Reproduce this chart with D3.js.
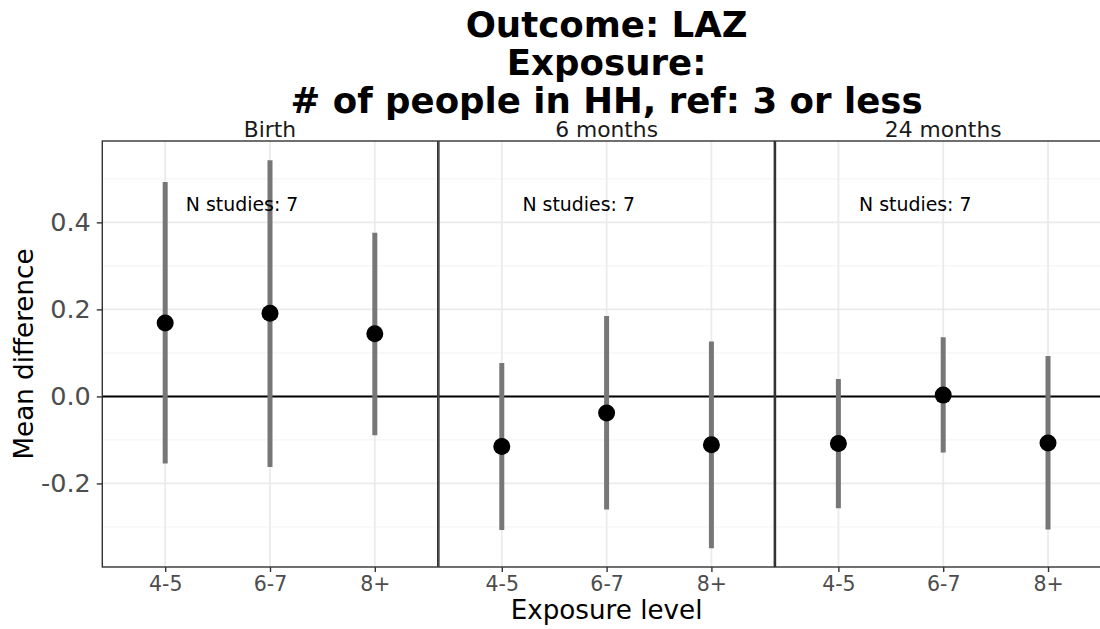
<!DOCTYPE html>
<html>
<head>
<meta charset="utf-8">
<script src="https://cdn.jsdelivr.net/npm/d3@7"></script>
<style>
  html, body { margin: 0; padding: 0; background: #fff; overflow: hidden; }
  svg { display: block; font-family: "DejaVu Sans", sans-serif; }
</style>
</head>
<body>
<svg id="chart" width="1100" height="629"></svg>
<script>
// Pooled mean differences in LAZ by household size, faceted by age
const titleLines = ["Outcome: LAZ", "Exposure:", "# of people in HH, ref: 3 or less"];
const timepoints = ["Birth", "6 months", "24 months"];
const levels = ["4-5", "6-7", "8+"];
const yTicks = [-0.2, 0.0, 0.2, 0.4];

const estBirth = [0.169, 0.191, 0.144];
const lowBirth = [-0.154, -0.162, -0.089];
const upBirth  = [0.493, 0.543, 0.376];

const est6m = [-0.115, -0.038, -0.111];
const low6m = [-0.307, -0.260, -0.349];
const up6m  = [0.077, 0.185, 0.126];

const est24m = [-0.108, 0.003, -0.107];
const low24m = [-0.257, -0.129, -0.306];
const up24m  = [0.040, 0.136, 0.093];

const nStudies = [7, 7, 7];

const panelData = [
  { est: estBirth, low: lowBirth, up: upBirth },
  { est: est6m, low: low6m, up: up6m },
  { est: est24m, low: low24m, up: up24m }
];

const svg = d3.select("#chart");

// layout
const plotLeft = 102.3, plotTop = 141, plotBottom = 567;
const panelW = 335.4, panelGap = 1.2;

const y = d3.scaleLinear().domain([-0.392, 0.587]).range([plotBottom, plotTop]);
const yMinor = [-0.3, -0.1, 0.1, 0.3, 0.5];

// title
const title = svg.append("g").attr("font-weight", "bold").attr("font-size", 35.6)
  .attr("text-anchor", "middle").attr("fill", "#000");
const titleX = plotLeft + (3 * panelW + 2 * panelGap) / 2;
titleLines.forEach((t, i) => {
  title.append("text").attr("x", titleX).attr("y", 37.3 + i * 38).text(t);
});

timepoints.forEach((tp, p) => {
  const x0 = plotLeft + p * (panelW + panelGap);
  const x = d3.scalePoint().domain(levels).range([x0, x0 + panelW]).padding(0.6);
  const g = svg.append("g");
  const d = panelData[p];

  // grid
  g.selectAll(".minor").data(yMinor).join("line")
    .attr("x1", x0).attr("x2", x0 + panelW)
    .attr("y1", v => y(v)).attr("y2", v => y(v))
    .attr("stroke", "#f3f3f3").attr("stroke-width", 1);
  g.selectAll(".major").data(yTicks).join("line")
    .attr("x1", x0).attr("x2", x0 + panelW)
    .attr("y1", v => y(v)).attr("y2", v => y(v))
    .attr("stroke", "#ebebeb").attr("stroke-width", 1.8);
  g.selectAll(".vgrid").data(levels).join("line")
    .attr("x1", c => x(c)).attr("x2", c => x(c))
    .attr("y1", plotTop).attr("y2", plotBottom)
    .attr("stroke", "#ebebeb").attr("stroke-width", 1.8);

  // reference line at zero
  g.append("line")
    .attr("x1", x0).attr("x2", x0 + panelW)
    .attr("y1", y(0)).attr("y2", y(0))
    .attr("stroke", "#000").attr("stroke-width", 2);

  // confidence intervals
  g.selectAll(".ci").data(levels).join("line")
    .attr("x1", (c) => x(c)).attr("x2", (c) => x(c))
    .attr("y1", (c, i) => y(d.low[i])).attr("y2", (c, i) => y(d.up[i]))
    .attr("stroke", "#777777").attr("stroke-width", 5);

  // point estimates
  g.selectAll(".pt").data(levels).join("circle")
    .attr("cx", c => x(c)).attr("cy", (c, i) => y(d.est[i]))
    .attr("r", 8.5).attr("fill", "#000");

  // study count annotation
  g.append("text")
    .attr("x", x0 + 139.8).attr("y", 210.7)
    .attr("text-anchor", "middle").attr("font-size", 18.9).attr("fill", "#000")
    .text("N studies: " + nStudies[p]);

  // panel border
  g.append("rect")
    .attr("x", x0).attr("y", plotTop).attr("width", panelW).attr("height", plotBottom - plotTop)
    .attr("fill", "none").attr("stroke", "#333333").attr("stroke-width", 1.4);

  // strip label
  g.append("text")
    .attr("x", x0 + panelW / 2).attr("y", 137.3)
    .attr("text-anchor", "middle").attr("font-size", 21.8).attr("fill", "#1a1a1a")
    .text(tp);

  // x axis
  const xa = g.append("g").attr("transform", `translate(0,${plotBottom})`)
    .call(d3.axisBottom(x).tickSize(5).tickPadding(4));
  xa.select(".domain").remove();
  xa.selectAll(".tick line").attr("stroke", "#333333").attr("stroke-width", 1.4);
  xa.selectAll(".tick text").attr("font-size", 20.5).attr("fill", "#4d4d4d")
    .attr("font-family", "DejaVu Sans").attr("dy", "0.71em");
});

// y axis
const ya = svg.append("g").attr("transform", `translate(${plotLeft},0)`)
  .call(d3.axisLeft(y).tickValues(yTicks).tickFormat(v => v.toFixed(1)).tickSize(5.5).tickPadding(6));
ya.select(".domain").remove();
ya.selectAll(".tick line").attr("stroke", "#333333").attr("stroke-width", 1.4);
ya.selectAll(".tick text").attr("font-size", 25.5).attr("fill", "#4d4d4d")
  .attr("font-family", "DejaVu Sans");

// axis titles
svg.append("text")
  .attr("x", titleX).attr("y", 619.3)
  .attr("text-anchor", "middle").attr("font-size", 26.2).attr("fill", "#000")
  .text("Exposure level");
svg.append("text")
  .attr("transform", `translate(33,${(plotTop + plotBottom) / 2}) rotate(-90)`)
  .attr("text-anchor", "middle").attr("font-size", 26.2).attr("fill", "#000")
  .text("Mean difference");
</script>
</body>
</html>
